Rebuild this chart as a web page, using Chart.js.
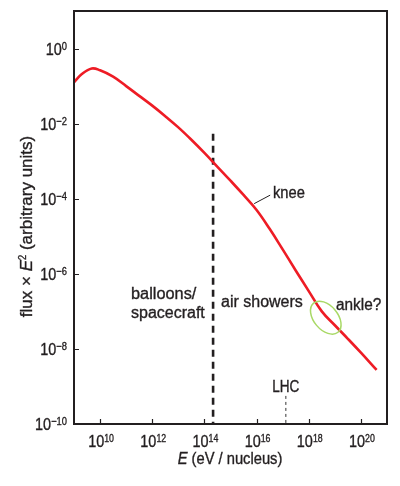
<!DOCTYPE html>
<html>
<head>
<meta charset="utf-8">
<script src="https://cdn.jsdelivr.net/npm/chart.js@4.4.1/dist/chart.umd.min.js"></script>
<style>
html,body{margin:0;padding:0;background:#fff;}
#wrap{width:400px;height:486px;position:relative;}
</style>
</head>
<body>
<div id="wrap"><canvas id="c"></canvas></div>
<script>
// Energy per nucleus (eV) and flux × E² (arbitrary units)
const energy = [1.0e9, 2.0e9, 4.8e9, 1.0e10, 3.16e10, 1.0e11, 3.16e11, 1.0e12, 3.16e12, 1.0e13,
  3.16e13, 1.0e14, 3.16e14, 1.0e15, 3.16e15, 1.0e16, 3.16e16, 1.0e17, 3.16e17, 1.0e18,
  3.16e18, 1.0e19, 3.16e19, 1.0e20, 4.0e20];
const flux = [0.126, 0.209, 0.295, 0.263, 0.178, 0.100, 0.0550, 0.0302, 0.0158, 7.94e-3,
  3.72e-3, 1.66e-3, 7.08e-4, 3.02e-4, 1.26e-4, 5.01e-5, 1.58e-5, 4.47e-6, 1.23e-6, 3.47e-7,
  1.0e-7, 4.27e-8, 1.86e-8, 7.94e-9, 2.75e-9];

// Axis ranges and ticks (tick value, exponent label)
const xRange = [1e9, 1e21];
const yRange = [1e-10, 1e1];
const xTicks = [1e10, 1e12, 1e14, 1e16, 1e18, 1e20];
const xTickExp = ['10', '12', '14', '16', '18', '20'];
const yTicks = [1e0, 1e-2, 1e-4, 1e-6, 1e-8, 1e-10];
const yTickExp = ['0', '\u22122', '\u22124', '\u22126', '\u22128', '\u221210'];

// Separation line between balloons/spacecraft and air showers, and LHC marker
const boundaryE = 2.15e14;
const boundaryFlux = [5.4e-3, 1e-10];
const lhcE = 1.32e17;
const lhcFlux = [5.6e-10, 1e-10];
// Ankle ellipse centre
const ankleE = 4.5e18;
const ankleFlux = 6.8e-8;

const INK = '#231f20';
const FONT = '"Liberation Sans",Arial,sans-serif';

// parts: {t, size, sx, italic, dy}
function drawRich(ctx, parts, x, y, align) {
  let w = 0;
  parts.forEach(p => {
    p.f = (p.italic ? 'italic ' : '') + p.size + 'px ' + FONT;
    ctx.font = p.f;
    p.w = ctx.measureText(p.t).width * (p.sx || 1);
    w += p.w;
  });
  let cx = align === 'center' ? x - w / 2 : (align === 'right' ? x - w : x);
  parts.forEach(p => {
    ctx.save();
    ctx.font = p.f;
    ctx.textAlign = 'left';
    ctx.translate(cx, y + (p.dy || 0));
    ctx.scale(p.sx || 1, 1);
    ctx.fillText(p.t, 0, 0);
    ctx.lineWidth = 0.35;
    ctx.strokeStyle = INK;
    ctx.strokeText(p.t, 0, 0);
    ctx.restore();
    cx += p.w;
  });
}

const decor = {
  id: 'decor',
  afterDatasetsDraw(chart) {
    const ctx = chart.ctx, a = chart.chartArea;
    const xs = chart.scales.x, ys = chart.scales.y;
    ctx.save();
    // ankle ellipse
    const ex = xs.getPixelForValue(ankleE), ey = ys.getPixelForValue(ankleFlux);
    ctx.strokeStyle = '#a9d966';
    ctx.lineWidth = 1.5;
    ctx.beginPath();
    ctx.ellipse(ex, ey, 19, 12, 50 * Math.PI / 180, 0, Math.PI * 2);
    ctx.stroke();
    // frame
    ctx.strokeStyle = INK;
    ctx.lineWidth = 2;
    ctx.strokeRect(a.left, a.top, a.right - a.left, a.bottom - a.top);
    // tick marks
    ctx.lineWidth = 1.2;
    ctx.beginPath();
    xTicks.forEach(v => { const px = Math.round(xs.getPixelForValue(v)) + 0.5; ctx.moveTo(px, a.bottom); ctx.lineTo(px, a.bottom - 5); });
    yTicks.forEach(v => { const py = Math.round(ys.getPixelForValue(v)) + 0.5; ctx.moveTo(a.left, py); ctx.lineTo(a.left + 5, py); });
    ctx.stroke();
    // knee leader
    const kx = xs.getPixelForValue(7.4e15), ky = ys.getPixelForValue(7.4e-5);
    ctx.lineWidth = 1;
    ctx.beginPath();
    ctx.moveTo(kx + 1, ky);
    ctx.lineTo(kx + 17, ky - 8.5);
    ctx.stroke();

    ctx.fillStyle = INK;
    ctx.textBaseline = 'alphabetic';
    // x tick labels
    xTicks.forEach((v, i) => {
      drawRich(ctx, [{t: '10', size: 17, sx: 0.85}, {t: xTickExp[i], size: 11, sx: 0.8, dy: -5}],
        xs.getPixelForValue(v) + 1, a.bottom + 23, 'center');
    });
    // y tick labels
    yTicks.forEach((v, i) => {
      drawRich(ctx, [{t: '10', size: 17, sx: 0.85}, {t: yTickExp[i], size: 11, sx: 0.85, dy: -5}],
        a.left - 7, ys.getPixelForValue(v) + 6, 'right');
    });
    // x title
    drawRich(ctx, [{t: 'E', size: 16, sx: 0.92, italic: true}, {t: ' (eV / nucleus)', size: 16, sx: 0.92}], 230, 464, 'center');
    // y title
    ctx.save();
    ctx.translate(31.5, 226.5);
    ctx.rotate(-Math.PI / 2);
    drawRich(ctx, [{t: 'flux \u00d7 ', size: 17}, {t: 'E', size: 17, italic: true}, {t: '2', size: 11, sx: 0.85, dy: -6},
      {t: ' (arbitrary units)', size: 17}], 0, 0, 'center');
    ctx.restore();
    // annotations
    drawRich(ctx, [{t: 'balloons/', size: 16, sx: 1.02}], 131, 299, 'left');
    drawRich(ctx, [{t: 'spacecraft', size: 16, sx: 1.0}], 131, 318, 'left');
    drawRich(ctx, [{t: 'air showers', size: 16, sx: 1.0}], 221, 307, 'left');
    drawRich(ctx, [{t: 'knee', size: 16, sx: 0.92}], 273, 198, 'left');
    drawRich(ctx, [{t: 'ankle?', size: 16, sx: 0.96}], 336, 310, 'left');
    drawRich(ctx, [{t: 'LHC', size: 17, sx: 0.8}], xs.getPixelForValue(lhcE), 391.5, 'center');
    ctx.restore();
  }
};

new Chart(document.getElementById('c'), {
  type: 'scatter',
  data: {
    datasets: [
      {
        data: energy.map((e, i) => ({x: e, y: flux[i]})),
        showLine: true, borderColor: '#ee1c25', borderWidth: 2.6, pointRadius: 0, tension: 0.4
      },
      {
        data: boundaryFlux.map(f => ({x: boundaryE, y: f})),
        showLine: true, borderColor: INK, borderWidth: 2.6, borderDash: [7, 5], pointRadius: 0
      },
      {
        data: lhcFlux.map(f => ({x: lhcE, y: f})),
        showLine: true, borderColor: '#555', borderWidth: 1.2, borderDash: [3, 3], pointRadius: 0
      }
    ]
  },
  options: {
    responsive: true, maintainAspectRatio: false, animation: false,
    layout: {padding: {left: 74, top: 11, right: 13, bottom: 62}},
    plugins: {legend: {display: false}, tooltip: {enabled: false}},
    scales: {
      x: {type: 'logarithmic', min: xRange[0], max: xRange[1], display: false},
      y: {type: 'logarithmic', min: yRange[0], max: yRange[1], display: false}
    }
  },
  plugins: [decor]
});
</script>
</body>
</html>
